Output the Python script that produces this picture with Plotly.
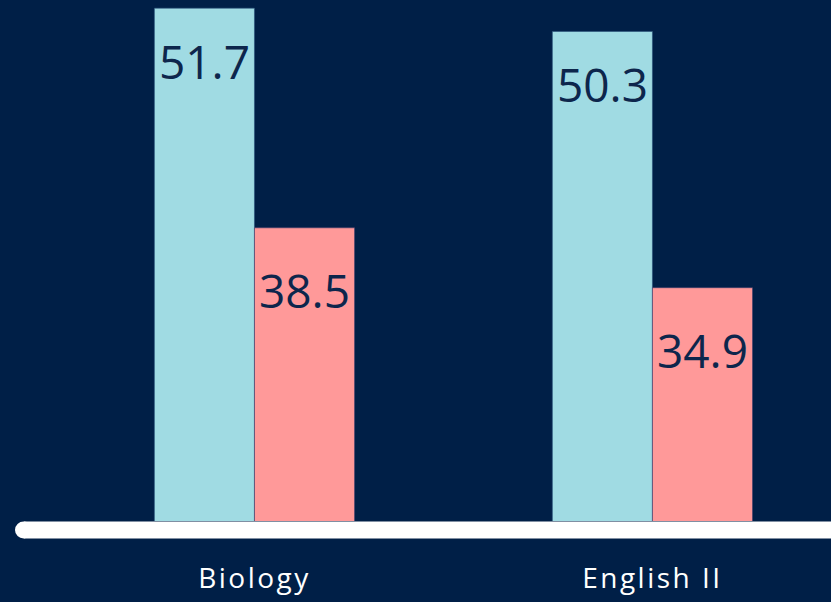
import plotly.graph_objects as go

categories = ["Biology", "English II"]
series_a = [51.7, 50.3]
series_b = [38.5, 34.9]
labels_a = ["51.7", "50.3"]
labels_b = ["38.5", "34.9"]

BG = "#001f47"
BLUE = "#a0dbe3"
PINK = "#ff9999"
DARK = "#0d264c"

fig = go.Figure()
fig.add_trace(go.Bar(x=categories, y=series_a, marker=dict(color=BLUE, line=dict(color="rgba(40,80,120,0.6)", width=1)),
                     hoverinfo="skip"))
fig.add_trace(go.Bar(x=categories, y=series_b, marker=dict(color=PINK, line=dict(color="rgba(60,60,110,0.6)", width=1)),
                     hoverinfo="skip"))

for i, c in enumerate(categories):
    fig.add_annotation(x=c, y=series_a[i], text=labels_a[i], showarrow=False, xref="x", yref="y",
                       xshift=-50, yshift=-20, yanchor="top", font=dict(family="Open Sans", size=46, color=DARK))
    fig.add_annotation(x=c, y=series_b[i], text=labels_b[i], showarrow=False, xref="x", yref="y",
                       xshift=50, yshift=-29, yanchor="top", font=dict(family="Open Sans", size=46, color=DARK))

# baseline with rounded left end
fig.add_shape(type="rect", xref="paper", yref="paper", ysizemode="pixel", yanchor=0,
              x0=24/831, x1=1.05, y0=-17.5, y1=-0.5, fillcolor="white", line=dict(width=0), layer="above")
fig.add_shape(type="circle", xref="paper", yref="paper", xsizemode="pixel", xanchor=0,
              ysizemode="pixel", yanchor=0, x0=15, x1=32.4, y0=-17.5, y1=-0.5,
              fillcolor="white", line=dict(width=0), layer="above")

fig.update_layout(
    width=831, height=602,
    paper_bgcolor=BG, plot_bgcolor=BG,
    margin=dict(l=0, r=0, t=0, b=81),
    showlegend=False,
    barmode="group", bargap=0.497, bargroupgap=0,
    xaxis=dict(range=[-0.6394, 1.4487], showgrid=False, zeroline=False, showline=False,
               ticks="", tickfont=dict(family="Open Sans", size=28, color="white"), ticklabelstandoff=38),
    yaxis=dict(range=[20.88, 52.19], visible=False, showgrid=False, zeroline=False),
)

post = """
document.body.style.margin = '0';
document.body.style.background = '%s';
var gd = document.getElementsByClassName('plotly-graph-div')[0];
function sp(){ gd.querySelectorAll('.xtick text').forEach(function(t){ t.style.letterSpacing = '2.5px'; }); }
sp();
gd.on('plotly_afterplot', sp);
""" % BG

fig.write_html("out.html", post_script=post, config={"displayModeBar": False})
